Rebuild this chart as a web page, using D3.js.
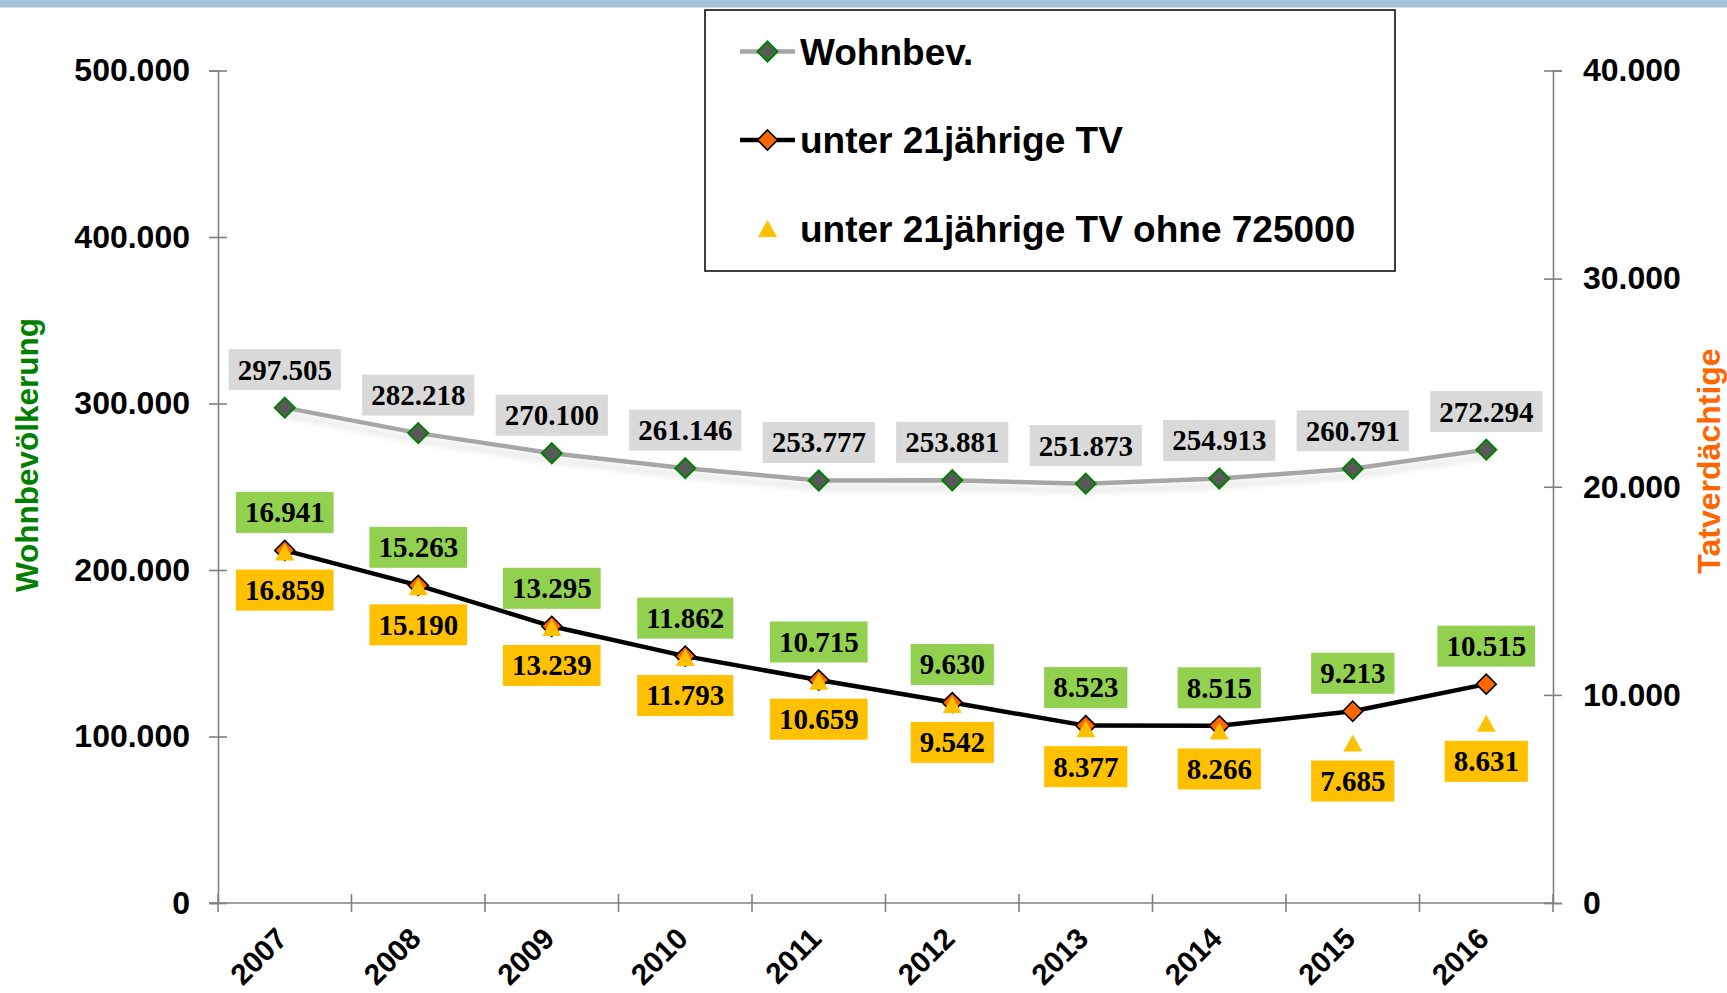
<!DOCTYPE html>
<html>
<head>
<meta charset="utf-8">
<script src="https://cdn.jsdelivr.net/npm/d3@7"></script>
<style>
  html, body { margin: 0; padding: 0; background: #fff; }
  svg { display: block; }
</style>
</head>
<body>
<script>
// ---- data ----
const years = ["2007","2008","2009","2010","2011","2012","2013","2014","2015","2016"];
const wohnbev = [297505, 282218, 270100, 261146, 253777, 253881, 251873, 254913, 260791, 272294];
const tv = [16941, 15263, 13295, 11862, 10715, 9630, 8523, 8515, 9213, 10515];
const tvOhne = [16859, 15190, 13239, 11793, 10659, 9542, 8377, 8266, 7685, 8631];
const leftTicks = [0, 100000, 200000, 300000, 400000, 500000];
const rightTicks = [0, 10000, 20000, 30000, 40000];
const legendLabels = ["Wohnbev.", "unter 21jährige TV", "unter 21jährige TV ohne 725000"];
const leftTitle = "Wohnbevölkerung";
const rightTitle = "Tatverdächtige";

// ---- setup ----
const W = 1727, H = 993;
const sans = "'Liberation Sans', Arial, sans-serif";
const serif = "'Liberation Serif', 'Times New Roman', serif";
const loc = d3.formatLocale({decimal: ",", thousands: ".", grouping: [3], currency: ["", "€"]});
const fmt = loc.format(",d");

const svg = d3.select("body").append("svg").attr("width", W).attr("height", H);
const defs = svg.append("defs");
const f = defs.append("filter").attr("id", "sh").attr("x", "-5%").attr("y", "-100%").attr("width", "110%").attr("height", "400%");
f.append("feGaussianBlur").attr("in", "SourceAlpha").attr("stdDeviation", 3).attr("result", "b");
f.append("feOffset").attr("in", "b").attr("dy", 7).attr("result", "o");
const ct = f.append("feComponentTransfer").attr("in", "o").attr("result", "c");
ct.append("feFuncA").attr("type", "linear").attr("slope", 0.12);
const fm = f.append("feMerge");
fm.append("feMergeNode").attr("in", "c");
fm.append("feMergeNode").attr("in", "SourceGraphic");

// top band
svg.append("rect").attr("x", 0).attr("y", 0).attr("width", W).attr("height", 7.5).attr("fill", "#a6c4d9");

const x = d3.scaleBand().domain(years).range([218, 1553]).padding(0);
const cx = d => x(d) + x.bandwidth() / 2;
const yL = d3.scaleLinear().domain([0, 500000]).range([903, 70.5]);
const yR = d3.scaleLinear().domain([0, 40000]).range([903, 70.5]);

const axisColor = "#808080";

// left axis
const gL = svg.append("g").attr("transform", "translate(218,0)")
  .call(d3.axisLeft(yL).tickValues(leftTicks).tickFormat(fmt).tickSize(9).tickPadding(19));
gL.selectAll(".tick line").attr("x1", 9);
// right axis
const gR = svg.append("g").attr("transform", "translate(1553,0)")
  .call(d3.axisRight(yR).tickValues(rightTicks).tickFormat(fmt).tickSize(9).tickPadding(21));
gR.selectAll(".tick line").attr("x1", -9);
[gL, gR].forEach(g => {
  g.select(".domain").attr("stroke", axisColor).attr("stroke-width", 1.6);
  g.selectAll(".tick line").attr("stroke", axisColor).attr("stroke-width", 1.6);
  g.selectAll(".tick text").attr("font-family", sans).attr("font-weight", "bold")
    .attr("font-size", 32).attr("fill", "#000");
});

// bottom axis (ticks at category boundaries)
const gB = svg.append("g");
gB.append("line").attr("x1", x.range()[0] - 9).attr("x2", x.range()[1]).attr("y1", yL(0)).attr("y2", yL(0))
  .attr("stroke", axisColor).attr("stroke-width", 1.6);
const bounds = years.map(d => x(d)).concat([x.range()[1]]);
gB.selectAll("line.b").data(bounds).enter().append("line").attr("class", "b")
  .attr("x1", d => d).attr("x2", d => d).attr("y1", yL(0) - 9).attr("y2", yL(0) + 9)
  .attr("stroke", axisColor).attr("stroke-width", 1.6);
gB.selectAll("text").data(years).enter().append("text")
  .attr("transform", d => `translate(${cx(d) - 3},933) rotate(-45)`)
  .attr("text-anchor", "end").attr("dy", "0.35em")
  .attr("font-family", sans).attr("font-weight", "bold").attr("font-size", 29.5).attr("fill", "#000")
  .text(d => d);

// axis titles
svg.append("text").attr("transform", "translate(27,455) rotate(-90)").attr("text-anchor", "middle").attr("dy", "0.35em")
  .attr("font-family", sans).attr("font-weight", "bold").attr("font-size", 31.5).attr("fill", "#008000").text(leftTitle);
svg.append("text").attr("transform", "translate(1709,461) rotate(-90)").attr("text-anchor", "middle").attr("dy", "0.35em")
  .attr("font-family", sans).attr("font-weight", "bold").attr("font-size", 32).attr("fill", "#ff6600").text(rightTitle);

// markers
const diamond = s => `M0,${-s}L${s},0L0,${s}L${-s},0Z`;
const tri = (w, h) => `M0,${-h / 2}L${w / 2},${h / 2}L${-w / 2},${h / 2}Z`;

// Wohnbev line
const lineL = d3.line().x((d, i) => cx(years[i])).y(d => yL(d));
svg.append("path").datum(wohnbev).attr("d", lineL).attr("fill", "none")
  .attr("stroke", "#a6a6a6").attr("stroke-width", 4.5).attr("filter", "url(#sh)");
svg.selectAll("path.dg").data(wohnbev).enter().append("path").attr("class", "dg")
  .attr("transform", (d, i) => `translate(${cx(years[i])},${yL(d)})`)
  .attr("d", diamond(10)).attr("fill", "#595959").attr("stroke", "#008000").attr("stroke-width", 2);

// TV line
const lineR = d3.line().x((d, i) => cx(years[i])).y(d => yR(d));
svg.append("path").datum(tv).attr("d", lineR).attr("fill", "none")
  .attr("stroke", "#000").attr("stroke-width", 4.5).attr("stroke-linejoin", "round");
svg.selectAll("path.do").data(tv).enter().append("path").attr("class", "do")
  .attr("transform", (d, i) => `translate(${cx(years[i])},${yR(d)})`)
  .attr("d", diamond(10)).attr("fill", "#ff6600").attr("stroke", "#000").attr("stroke-width", 1.6);

// TV ohne triangles
svg.selectAll("path.tr").data(tvOhne).enter().append("path").attr("class", "tr")
  .attr("transform", (d, i) => `translate(${cx(years[i])},${yR(d)})`)
  .attr("d", tri(19, 17)).attr("fill", "#ffc000");

// labels
function labels(data, yScale, offset, bg) {
  const g = svg.append("g");
  data.forEach((d, i) => {
    const px = cx(years[i]), py = yScale(d) + offset;
    const gg = g.append("g").attr("transform", `translate(${px},${py})`);
    const r = gg.append("rect");
    const t = gg.append("text").attr("text-anchor", "middle").attr("dy", "0.34em")
      .attr("font-family", serif).attr("font-weight", "bold").attr("font-size", 29).attr("fill", "#000")
      .text(fmt(d));
    const w = t.node().getComputedTextLength() + 18;
    r.attr("x", -w / 2).attr("y", -20.5).attr("width", w).attr("height", 41).attr("fill", bg);
  });
}
labels(wohnbev, yL, -38, "#d9d9d9");
labels(tv, yR, -38, "#92d050");
labels(tvOhne, yR, 38, "#ffc000");

// legend
const lg = svg.append("g");
lg.append("rect").attr("x", 705).attr("y", 10).attr("width", 690).attr("height", 261)
  .attr("fill", "#fff").attr("stroke", "#000").attr("stroke-width", 1.5);
const legY = [51.5, 140, 228.5];
// entry 1
lg.append("line").attr("x1", 740).attr("x2", 795).attr("y1", legY[0]).attr("y2", legY[0])
  .attr("stroke", "#a6a6a6").attr("stroke-width", 4.5);
lg.append("path").attr("transform", `translate(767.5,${legY[0]})`).attr("d", diamond(10))
  .attr("fill", "#595959").attr("stroke", "#008000").attr("stroke-width", 2);
// entry 2
lg.append("line").attr("x1", 740).attr("x2", 795).attr("y1", legY[1]).attr("y2", legY[1])
  .attr("stroke", "#000").attr("stroke-width", 4.5);
lg.append("path").attr("transform", `translate(767.5,${legY[1]})`).attr("d", diamond(10))
  .attr("fill", "#ff6600").attr("stroke", "#000").attr("stroke-width", 1.6);
// entry 3
lg.append("path").attr("transform", `translate(767.5,${legY[2]})`).attr("d", tri(19, 17)).attr("fill", "#ffc000");
lg.selectAll("text").data(legendLabels).enter().append("text")
  .attr("x", 800).attr("y", (d, i) => legY[i]).attr("dy", "0.36em")
  .attr("font-family", sans).attr("font-weight", "bold").attr("font-size", 37).attr("fill", "#000")
  .text(d => d);
</script>
</body>
</html>
